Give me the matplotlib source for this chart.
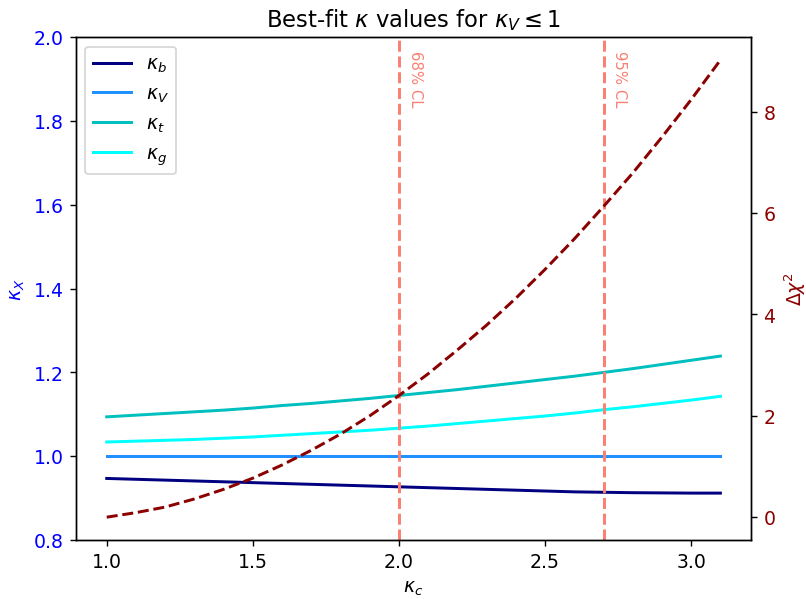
import numpy as np
import matplotlib
matplotlib.use('Agg')
import matplotlib.pyplot as plt

plt.rcParams['font.size'] = 10.8
plt.rcParams['lines.linewidth'] = 1.7

# kappa_c scan points
kappa_c = [1.0, 1.1, 1.2, 1.3, 1.4, 1.5, 1.6, 1.7, 1.8, 1.9, 2.0,
           2.1, 2.2, 2.3, 2.4, 2.5, 2.6, 2.7, 2.8, 2.9, 3.0, 3.1]

# best-fit couplings
kappa_b = [0.947, 0.945, 0.943, 0.941, 0.939, 0.937, 0.935, 0.933, 0.931, 0.929, 0.927,
           0.925, 0.923, 0.921, 0.919, 0.917, 0.915, 0.914, 0.913, 0.9125, 0.912, 0.912]
kappa_V = [1.0] * 22
kappa_t = [1.094, 1.098, 1.102, 1.106, 1.110, 1.115, 1.121, 1.126, 1.132, 1.138, 1.145,
           1.152, 1.159, 1.167, 1.175, 1.183, 1.191, 1.200, 1.209, 1.219, 1.229, 1.239]
kappa_g = [1.034, 1.036, 1.038, 1.040, 1.043, 1.046, 1.050, 1.054, 1.058, 1.062, 1.067,
           1.072, 1.078, 1.084, 1.090, 1.096, 1.103, 1.111, 1.118, 1.126, 1.134, 1.143]
dchi2 = [0.0, 0.09, 0.20, 0.36, 0.55, 0.77, 1.03, 1.32, 1.64, 2.00, 2.40,
         2.83, 3.30, 3.79, 4.32, 4.89, 5.49, 6.13, 6.79, 7.50, 8.24, 9.02]

cl_lines = [2.0, 2.7]
cl_labels = ['68% CL', '95% CL']

fig, ax = plt.subplots(figsize=(6.4, 4.76), dpi=126)
fig.subplots_adjust(left=0.0943, right=0.9314, top=0.9367, bottom=0.0983)

ax.plot(kappa_c, kappa_b, color='navy', label=r'$\kappa_b$')
ax.plot(kappa_c, kappa_V, color='dodgerblue', label=r'$\kappa_V$')
ax.plot(kappa_c, kappa_t, color='c', label=r'$\kappa_t$')
ax.plot(kappa_c, kappa_g, color='cyan', label=r'$\kappa_g$')
ax.set_ylim(0.8, 2.0)
ax.set_xlabel(r'$\kappa_c$')
ax.set_ylabel(r'$\kappa_X$', color='blue')
ax.tick_params(axis='y', labelcolor='blue')
ax.legend(loc='upper left')

for xv, lab in zip(cl_lines, cl_labels):
    ax.axvline(xv, color='salmon', linestyle='--')
    ax.text(xv + 0.03, 0.975, lab, transform=ax.get_xaxis_transform(),
            rotation=270, va='top', ha='left', color='salmon', fontsize=8.5)

ax2 = ax.twinx()
ax2.plot(kappa_c, dchi2, color='darkred', linestyle='--')
ax2.set_ylabel(r'$\Delta\chi^2$', color='darkred')
ax2.tick_params(axis='y', labelcolor='darkred')

ax.set_title(r'Best-fit $\kappa$ values for $\kappa_V \leq 1$')

plt.savefig('out.png')
